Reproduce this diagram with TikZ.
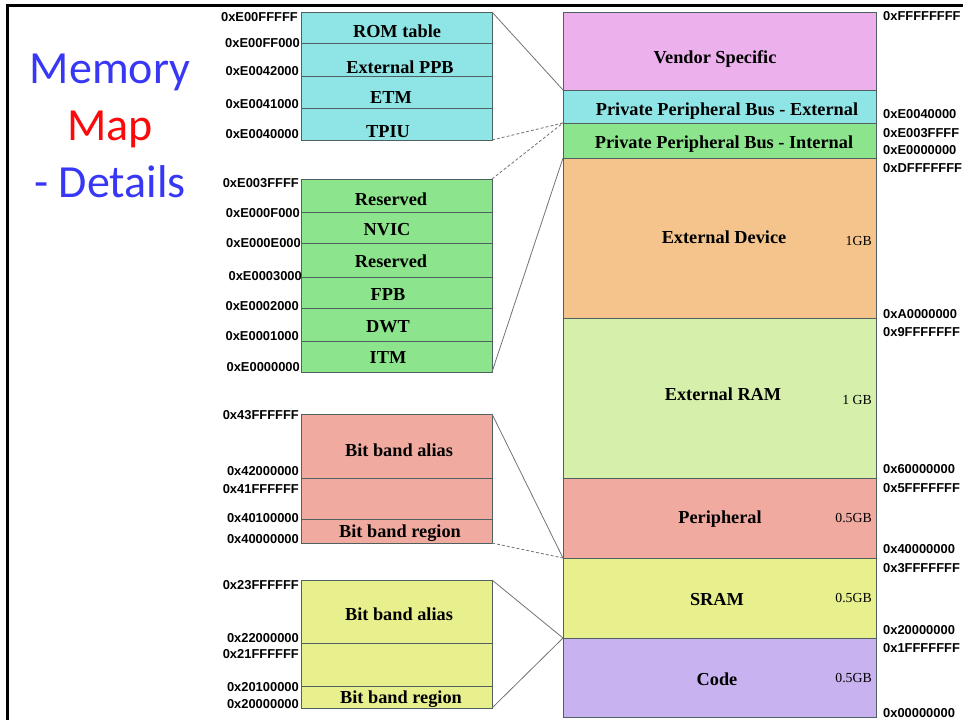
\documentclass[tikz,border=0pt]{standalone}
\usepackage{fontspec}
\setmainfont{Liberation Serif}
\newfontfamily\addrfont{Liberation Sans}
\newfontfamily\titlefont{Carlito}

\definecolor{edge}{RGB}{78,96,96}
\definecolor{linkgray}{RGB}{115,115,115}
\definecolor{cyanblk}{RGB}{143,229,229}
\definecolor{vendorblk}{RGB}{236,176,236}
\definecolor{greenblk}{RGB}{140,228,140}
\definecolor{orangeblk}{RGB}{244,196,140}
\definecolor{ramblk}{RGB}{214,240,172}
\definecolor{periphblk}{RGB}{240,170,160}
\definecolor{sramblk}{RGB}{232,240,142}
\definecolor{codeblk}{RGB}{200,178,240}
\definecolor{titleblue}{RGB}{55,55,245}
\definecolor{titlered}{RGB}{250,10,10}

% one memory region: name, left x, top y, width, height, fill
\newcommand\memregion[6]{%
  \node[blk, fill=#6, minimum width=#4pt, minimum height=#5pt] (#1) at (#2,#3) {};}

\begin{document}
\begin{tikzpicture}[x=1pt,y=-1pt,
  blk/.style={draw=edge, line width=0.9pt, anchor=north west, inner sep=0pt, outer sep=0pt},
  lbl/.style={font=\bfseries\fontsize{18.3}{18.3}\selectfont, anchor=base, inner sep=0pt},
  sizelbl/.style={font=\fontsize{13.8}{13.8}\selectfont, anchor=base east, inner sep=0pt},
  addrl/.style={font=\addrfont\bfseries\fontsize{12.9}{12.9}\selectfont, anchor=base east, inner sep=0pt, text=black},
  addrr/.style={font=\addrfont\bfseries\fontsize{12.9}{12.9}\selectfont, anchor=base west, inner sep=0pt, text=black},
  ttl/.style={font=\titlefont\fontsize{46}{46}\selectfont, anchor=base, inner sep=0pt},
  link/.style={draw=linkgray, line width=0.8pt},
  dlink/.style={link, densely dashed}]

\useasboundingbox (0,0) rectangle (963,720);

% frame
\draw[line width=3pt] (7,720) -- (7,5) -- (963,5);

% title
\node[ttl, text=titleblue] (t1) at (110,83) {Memory};
\node[ttl, text=titlered] (t2) at (110,140) {Map};
\node[ttl, text=titleblue] (t3) at (110,197) {- Details};

% ---- full address space ----
\memregion{vs}{563}{12}{313}{78}{vendorblk}
\memregion{ppbe}{563}{90}{313}{33}{cyanblk}
\memregion{ppbi}{563}{123}{313}{35}{greenblk}
\memregion{extdev}{563}{158}{313}{160}{orangeblk}
\memregion{extram}{563}{318}{313}{160}{ramblk}
\memregion{periph}{563}{478}{313}{80}{periphblk}
\memregion{sram}{563}{558}{313}{80}{sramblk}
\memregion{code}{563}{638}{313}{79}{codeblk}

\node[lbl] (lvs) at (715,63) {Vendor Specific};
\node[lbl] (lppbe) at (727,115) {Private Peripheral Bus - External};
\node[lbl] (lppbi) at (724,148) {Private Peripheral Bus - Internal};
\node[lbl] (lextdev) at (724,243) {External Device};
\node[lbl] (lextram) at (723,400) {External RAM};
\node[lbl] (lperiph) at (720,523) {Peripheral};
\node[lbl] (lsram) at (717,605) {SRAM};
\node[lbl] (lcode) at (717,685) {Code};

\node[sizelbl] (s1) at (872,245) {1GB};
\node[sizelbl] (s2) at (872,404) {1 GB};
\node[sizelbl] (s3) at (872,522) {0.5GB};
\node[sizelbl] (s4) at (872,602) {0.5GB};
\node[sizelbl] (s5) at (872,682) {0.5GB};

\node[addrr] (r1) at (883,20) {0xFFFFFFFF};
\node[addrr] (r2) at (883,118) {0xE0040000};
\node[addrr] (r3) at (883,137) {0xE003FFFF};
\node[addrr] (r4) at (883,154) {0xE0000000};
\node[addrr] (r5) at (883,172) {0xDFFFFFFF};
\node[addrr] (r6) at (883,318) {0xA0000000};
\node[addrr] (r7) at (883,336) {0x9FFFFFFF};
\node[addrr] (r8) at (883,473) {0x60000000};
\node[addrr] (r9) at (883,492) {0x5FFFFFFF};
\node[addrr] (r10) at (883,553) {0x40000000};
\node[addrr] (r11) at (883,572) {0x3FFFFFFF};
\node[addrr] (r12) at (883,634) {0x20000000};
\node[addrr] (r13) at (883,652) {0x1FFFFFFF};
\node[addrr] (r14) at (883,717) {0x00000000};

% ---- external PPB detail ----
\memregion{rom}{301}{12}{191}{31}{cyanblk}
\memregion{eppb}{301}{43}{191}{33}{cyanblk}
\memregion{etm}{301}{76}{191}{32}{cyanblk}
\memregion{tpiu}{301}{108}{191}{32}{cyanblk}
\node[lbl] (lrom) at (397,37) {ROM table};
\node[lbl] (leppb) at (400,73) {External PPB};
\node[lbl] (letm) at (391,103) {ETM};
\node[lbl] (ltpiu) at (388,137) {TPIU};
\node[addrl] (c1) at (298,21) {0xE00FFFFF};
\node[addrl] (c2) at (300,47) {0xE00FF000};
\node[addrl] (c3) at (299,75) {0xE0042000};
\node[addrl] (c4) at (299,108) {0xE0041000};
\node[addrl] (c5) at (299,138) {0xE0040000};

% ---- internal PPB detail ----
\memregion{rsva}{301}{179}{191}{33}{greenblk}
\memregion{nvic}{301}{212}{191}{31}{greenblk}
\memregion{rsvb}{301}{243}{191}{34}{greenblk}
\memregion{fpb}{301}{277}{191}{31}{greenblk}
\memregion{dwt}{301}{308}{191}{33}{greenblk}
\memregion{itm}{301}{341}{191}{31}{greenblk}
\node[lbl] (lrsva) at (391,205) {Reserved};
\node[lbl] (lnvic) at (387,235) {NVIC};
\node[lbl] (lrsvb) at (391,267) {Reserved};
\node[lbl] (lfpb) at (388,300) {FPB};
\node[lbl] (ldwt) at (388,332) {DWT};
\node[lbl] (litm) at (388,363) {ITM};
\node[addrl] (g1) at (299,187) {0xE003FFFF};
\node[addrl] (g2) at (300,217) {0xE000F000};
\node[addrl] (g3) at (301,247) {0xE000E000};
\node[addrl] (g4) at (302,280) {0xE0003000};
\node[addrl] (g5) at (299,310) {0xE0002000};
\node[addrl] (g6) at (299,340) {0xE0001000};
\node[addrl] (g7) at (300,371) {0xE0000000};

% ---- peripheral bit band detail ----
\memregion{palias}{301}{414}{191}{64}{periphblk}
\memregion{pmid}{301}{478}{191}{41}{periphblk}
\memregion{pregion}{301}{519}{191}{24}{periphblk}
\node[lbl] (lpalias) at (399,456) {Bit band alias};
\node[lbl] (lpregion) at (400,537) {Bit band region};
\node[addrl] (p1) at (299,419) {0x43FFFFFF};
\node[addrl] (p2) at (299,475) {0x42000000};
\node[addrl] (p3) at (299,493) {0x41FFFFFF};
\node[addrl] (p4) at (299,522) {0x40100000};
\node[addrl] (p5) at (299,543) {0x40000000};

% ---- SRAM bit band detail ----
\memregion{salias}{301}{580}{191}{63}{sramblk}
\memregion{smid}{301}{643}{191}{43}{sramblk}
\memregion{sregion}{301}{686}{191}{22}{sramblk}
\node[lbl] (lsalias) at (399,620) {Bit band alias};
\node[lbl] (lsregion) at (401,703) {Bit band region};
\node[addrl] (y1) at (299,589) {0x23FFFFFF};
\node[addrl] (y2) at (299,642) {0x22000000};
\node[addrl] (y3) at (299,658) {0x21FFFFFF};
\node[addrl] (y4) at (299,691) {0x20100000};
\node[addrl] (y5) at (299,708) {0x20000000};

% ---- zoom lines ----
\draw[link] (rom.north east) -- (vs.south west);
\draw[dlink] (tpiu.south east) -- (ppbe.south west);
\draw[dlink] (rsva.north east) -- (ppbi.north west);
\draw[link] (itm.south east) -- (extdev.north west);
\draw[link] (palias.north east) -- (periph.south west);
\draw[dlink] (pregion.south east) -- (periph.south west);
\draw[link] (salias.north east) -- (sram.south west);
\draw[link] (sregion.south east) -- (sram.south west);

\end{tikzpicture}
\end{document}
